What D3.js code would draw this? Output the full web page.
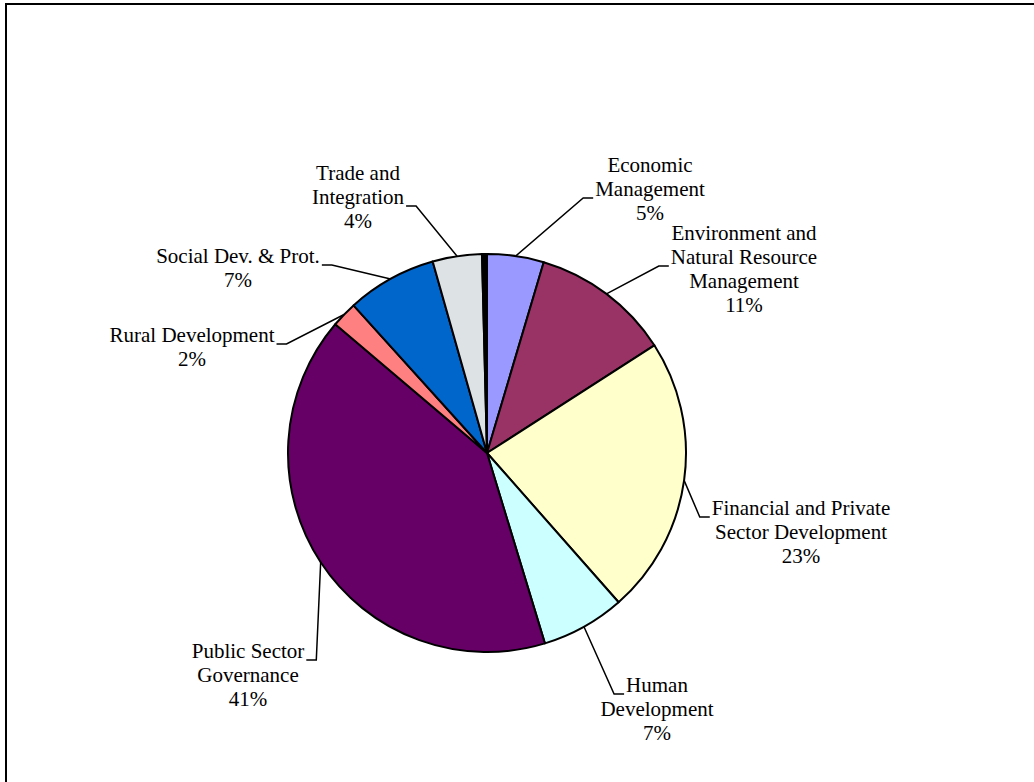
<!DOCTYPE html>
<html>
<head>
<meta charset="utf-8">
<script src="https://cdn.jsdelivr.net/npm/d3@7"></script>
<style>
  body { margin: 0; background: #fff; }
  svg { display: block; }
</style>
</head>
<body>
<div class="pie"></div>
<script>
// share of total by sector (percent)
var categories = ["Economic Management", "Environment and Natural Resource Management",
  "Financial and Private Sector Development", "Human Development",
  "Public Sector Governance", "Rural Development", "Social Dev. & Prot.",
  "Trade and Integration", "Other"];
var values = [4.6, 11.3, 22.6, 6.8, 40.9, 2.1, 7.3, 4.0, 0.4];
var colors = ["#9999ff", "#993366", "#ffffcc", "#ccffff", "#660066",
  "#ff8080", "#0066cc", "#dde2e4", "#000000"];
var labelLines = [
  ["Economic", "Management"],
  ["Environment and", "Natural Resource", "Management"],
  ["Financial and Private", "Sector Development"],
  ["Human", "Development"],
  ["Public Sector", "Governance"],
  ["Rural Development"],
  ["Social Dev. & Prot."],
  ["Trade and", "Integration"],
  null
];

// label placement (offsets from pie centre), which line the leader hooks on, side
var labelLayout = [
  {dx: 163, dy: -281, line: 1, side: "left"},
  {dx: 257, dy: -213, line: 1, side: "left"},
  {dx: 314, dy: 62, line: 0, side: "left"},
  {dx: 170, dy: 239, line: 0, side: "left"},
  {dx: -239, dy: 205, line: 0, side: "right"},
  {dx: -295, dy: -111, line: 0, side: "right"},
  {dx: -249, dy: -190, line: 0, side: "right"},
  {dx: -129, dy: -273, line: 1, side: "right"},
  null
];

var w = 1034;
var h = 782;
var cx = 487, cy = 453, r = 199;
var lineH = 24;

var svg = d3.select(".pie")
  .append("svg")
  .attr("width", w)
  .attr("height", h)
  .style("font-family", "'Liberation Serif', 'Times New Roman', serif")
  .style("font-size", "21px");

// frame (cut off at right and bottom in the original)
svg.append("path")
  .attr("d", "M6,782 L6,4 L1034,4")
  .attr("fill", "none")
  .attr("stroke", "#000")
  .attr("stroke-width", 2);

var pie = d3.pie().sort(null).value(function(d) { return d; });
var arcs = pie(values);
var arc = d3.arc().innerRadius(0).outerRadius(r);

var g = svg.append("g").attr("transform", "translate(" + cx + "," + cy + ")");

g.selectAll("path.slice")
  .data(arcs)
  .enter()
  .append("path")
  .attr("class", "slice")
  .attr("d", arc)
  .attr("fill", function(d, i) { return colors[i]; })
  .attr("stroke", "#000")
  .attr("stroke-width", 2)
  .attr("stroke-linejoin", "round");

var total = d3.sum(values);

arcs.forEach(function(d, i) {
  var lines = labelLines[i];
  var lay = labelLayout[i];
  if (!lines) return;
  var pct = Math.round(d.data / total * 100) + "%";
  var all = lines.concat([pct]);

  var t = g.append("text")
    .attr("text-anchor", "middle")
    .attr("fill", "#000");
  all.forEach(function(s, k) {
    t.append("tspan")
      .attr("x", lay.dx)
      .attr("y", lay.dy + k * lineH)
      .text(s);
  });

  // leader: edge of the hook line -> short tick -> point on the rim
  var hook = t.selectAll("tspan").nodes()[lay.line];
  var tw = hook.getComputedTextLength();
  var ly = lay.dy + lay.line * lineH + 2;
  var lx = lay.side === "left" ? lay.dx - tw / 2 - 2 : lay.dx + tw / 2 + 2;
  var tick = lay.side === "left" ? -10 : 10;
  var a = (d.startAngle + d.endAngle) / 2;
  var px = r * Math.sin(a), py = -r * Math.cos(a);

  g.append("path")
    .attr("d", d3.line()([[lx, ly], [lx + tick, ly], [px, py]]))
    .attr("fill", "none")
    .attr("stroke", "#000")
    .attr("stroke-width", 1.5);
});
</script>
</body>
</html>
